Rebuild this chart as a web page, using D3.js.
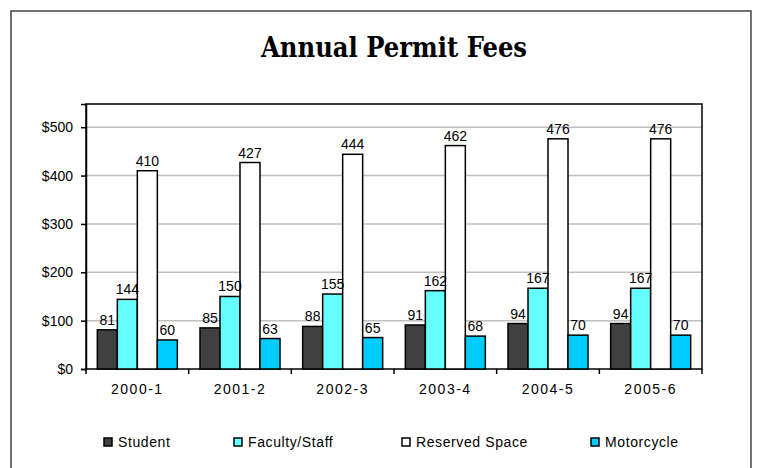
<!DOCTYPE html>
<html>
<head>
<meta charset="utf-8">
<script src="https://cdn.jsdelivr.net/npm/d3@7"></script>
<style>
  body { margin: 0; background: #fff; }
  text { font-family: "Liberation Sans", Arial, sans-serif; }
</style>
</head>
<body>
<div id="chart"></div>
<script>
var years = ["2000-1", "2001-2", "2002-3", "2003-4", "2004-5", "2005-6"];
var seriesNames = ["Student", "Faculty/Staff", "Reserved Space", "Motorcycle"];
var student = [81, 85, 88, 91, 94, 94];
var faculty = [144, 150, 155, 162, 167, 167];
var reserved = [410, 427, 444, 462, 476, 476];
var motorcycle = [60, 63, 65, 68, 70, 70];
var yTicks = [0, 100, 200, 300, 400, 500];
var colors = ["#404040", "#66ffff", "#ffffff", "#00ccff"];

var values = [student, faculty, reserved, motorcycle];

var width = 758, height = 468;
var plot = { left: 86, top: 104, right: 702, bottom: 369 };

var svg = d3.select("#chart").append("svg")
  .attr("width", width)
  .attr("height", height);

// outer frame
svg.append("rect")
  .attr("x", 11).attr("y", 11)
  .attr("width", 740).attr("height", 480)
  .attr("fill", "none")
  .attr("stroke", "#444")
  .attr("stroke-width", 1.5);

svg.append("text")
  .attr("x", 394)
  .attr("y", 57)
  .attr("text-anchor", "middle")
  .style("font-family", "'DejaVu Serif Condensed', 'DejaVu Serif', serif")
  .style("font-stretch", "condensed")
  .style("font-weight", "bold")
  .style("font-size", "27px")
  .text("Annual Permit Fees");

var x0 = d3.scaleBand()
  .domain(years)
  .range([plot.left, plot.right]);

var x1 = d3.scaleBand()
  .domain(seriesNames)
  .range([0, 80]);

var y = d3.scaleLinear()
  .domain([0, 548])
  .range([plot.bottom, plot.top]);

// grid
svg.append("g")
  .selectAll("line")
  .data(yTicks.slice(1))
  .enter().append("line")
  .attr("x1", plot.left).attr("x2", plot.right)
  .attr("y1", d => y(d)).attr("y2", d => y(d))
  .attr("stroke", "#c0c0c0")
  .attr("stroke-width", 1.5);

// plot border
svg.append("rect")
  .attr("x", plot.left).attr("y", plot.top)
  .attr("width", plot.right - plot.left)
  .attr("height", plot.bottom - plot.top)
  .attr("fill", "none")
  .attr("stroke", "#000")
  .attr("stroke-width", 1.5);

// bars
var groups = svg.append("g")
  .selectAll("g")
  .data(years)
  .enter().append("g")
  .attr("transform", d => "translate(" + (x0(d) + (x0.bandwidth() - 80) / 2) + ",0)");

groups.selectAll("rect")
  .data((d, i) => seriesNames.map((s, j) => ({ s: s, v: values[j][i], c: colors[j] })))
  .enter().append("rect")
  .attr("x", d => x1(d.s))
  .attr("width", x1.bandwidth())
  .attr("y", d => y(d.v))
  .attr("height", d => plot.bottom - y(d.v))
  .attr("fill", d => d.c)
  .attr("stroke", "#000")
  .attr("stroke-width", 1.5);

groups.selectAll("text")
  .data((d, i) => seriesNames.map((s, j) => ({ s: s, v: values[j][i] })))
  .enter().append("text")
  .attr("x", d => x1(d.s) + x1.bandwidth() / 2)
  .attr("y", d => y(d.v) - 5)
  .attr("text-anchor", "middle")
  .style("font-size", "14px")
  .text(d => d.v);

// y axis
var yAxis = svg.append("g")
  .attr("transform", "translate(" + plot.left + ",0)")
  .call(d3.axisLeft(y).tickValues(yTicks).tickSize(5).tickPadding(8)
    .tickFormat(d => "$" + d));
yAxis.select(".domain").attr("stroke", "#000").attr("stroke-width", 1.5);
yAxis.selectAll("line").attr("stroke", "#000").attr("stroke-width", 1.5);
yAxis.selectAll("text").style("font-size", "14px").attr("fill", "#000");

// x axis
var xAxis = svg.append("g")
  .attr("transform", "translate(0," + plot.bottom + ")")
  .call(d3.axisBottom(x0).tickSize(0).tickPadding(15));
xAxis.select(".domain").remove();
xAxis.selectAll("text").style("font-size", "14px").attr("fill", "#000").attr("letter-spacing", "1.5px");

svg.append("g")
  .selectAll("line")
  .data(years.concat(["end"]))
  .enter().append("line")
  .attr("x1", (d, i) => plot.left + i * x0.bandwidth())
  .attr("x2", (d, i) => plot.left + i * x0.bandwidth())
  .attr("y1", plot.bottom).attr("y2", plot.bottom + 5)
  .attr("stroke", "#000")
  .attr("stroke-width", 1.5);

// legend
var legendX = [104, 234, 402, 591];
var legend = svg.append("g")
  .selectAll("g")
  .data(seriesNames)
  .enter().append("g")
  .attr("transform", (d, i) => "translate(" + legendX[i] + ",438)");

legend.append("rect")
  .attr("width", 8).attr("height", 8)
  .attr("fill", (d, i) => colors[i])
  .attr("stroke", "#000")
  .attr("stroke-width", 1.5);

legend.append("text")
  .attr("x", 14)
  .attr("y", 9)
  .style("font-size", "14px")
  .attr("letter-spacing", "0.6px")
  .text(d => d);
</script>
</body>
</html>
